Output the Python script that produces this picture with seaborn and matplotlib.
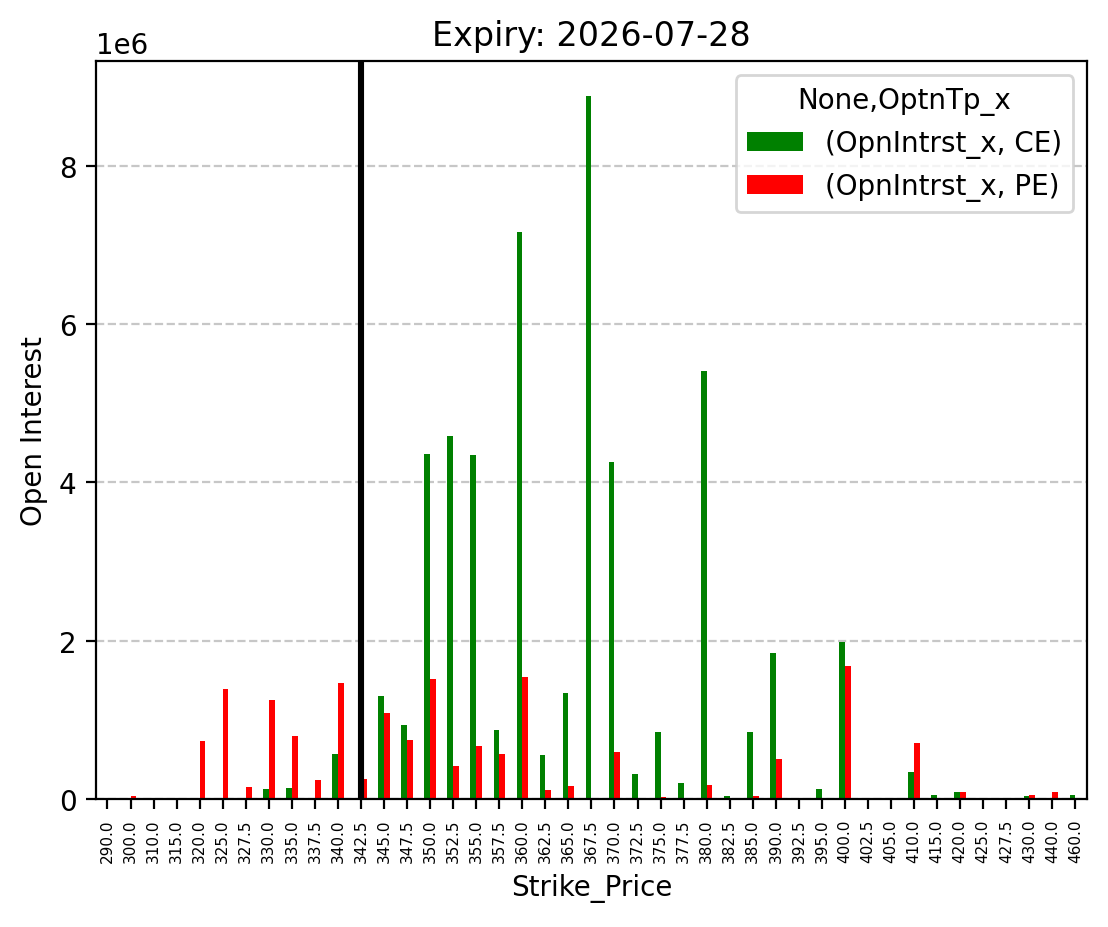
import matplotlib

matplotlib.use("Agg")
import matplotlib.pyplot as plt
import pandas as pd
import seaborn as sns

strikes = [290.0, 300.0, 310.0, 315.0, 320.0, 325.0, 327.5, 330.0, 335.0, 337.5,
           340.0, 342.5, 345.0, 347.5, 350.0, 352.5, 355.0, 357.5, 360.0, 362.5,
           365.0, 367.5, 370.0, 372.5, 375.0, 377.5, 380.0, 382.5, 385.0, 390.0,
           392.5, 395.0, 400.0, 402.5, 405.0, 410.0, 415.0, 420.0, 425.0, 427.5,
           430.0, 440.0, 460.0]

# open interest in millions
oi_ce = [0, 0, 0, 0, 0, 0, 0, 0.13, 0.14, 0,
         0.57, 0, 1.30, 0.94, 4.36, 4.59, 4.35, 0.87, 7.16, 0.56,
         1.34, 8.88, 4.26, 0.32, 0.84, 0.20, 5.41, 0.04, 0.84, 1.85,
         0, 0.13, 1.98, 0.01, 0, 0.34, 0.05, 0.09, 0.01, 0.01,
         0.04, 0, 0.05]
oi_pe = [0, 0.04, 0, 0, 0.73, 1.39, 0.15, 1.25, 0.80, 0.24,
         1.47, 0.25, 1.09, 0.75, 1.52, 0.42, 0.67, 0.57, 1.54, 0.11,
         0.16, 0.01, 0.59, 0, 0.03, 0.01, 0.18, 0, 0.04, 0.51,
         0, 0, 1.68, 0, 0, 0.71, 0, 0.09, 0, 0,
         0.05, 0.09, 0]

spot_strike = 342.5
expiry = "2026-07-28"
series_labels = ["(OpnIntrst_x, CE)", "(OpnIntrst_x, PE)"]
palette = {series_labels[0]: "green", series_labels[1]: "red"}

labels = [f"{s:.1f}" for s in strikes]
df = pd.concat(
    [
        pd.DataFrame({"Strike_Price": labels, "OI": [v * 1e6 for v in oi_ce],
                      "None,OptnTp_x": series_labels[0]}),
        pd.DataFrame({"Strike_Price": labels, "OI": [v * 1e6 for v in oi_pe],
                      "None,OptnTp_x": series_labels[1]}),
    ],
    ignore_index=True,
)

fig, ax = plt.subplots(figsize=(5.54, 4.64), dpi=200)
fig.subplots_adjust(left=0.0866, right=0.981, top=0.933, bottom=0.138)

sns.barplot(data=df, x="Strike_Price", y="OI", hue="None,OptnTp_x", order=labels,
            palette=palette, width=0.5, saturation=1, errorbar=None,
            linewidth=0, ax=ax)

ax.axvline(labels.index(f"{spot_strike:.1f}"), color="black", linewidth=2.2)
ax.grid(axis="y", linestyle="--", alpha=0.7)
ax.set_axisbelow(True)
ax.tick_params(axis="x", labelrotation=90, labelsize=5.5)
ax.set_title(f"Expiry: {expiry}")
ax.set_xlabel("Strike_Price")
ax.set_ylabel("Open Interest")
ax.legend(title="None,OptnTp_x", loc="upper right")

plt.savefig("out.png", dpi=200)
plt.close()
